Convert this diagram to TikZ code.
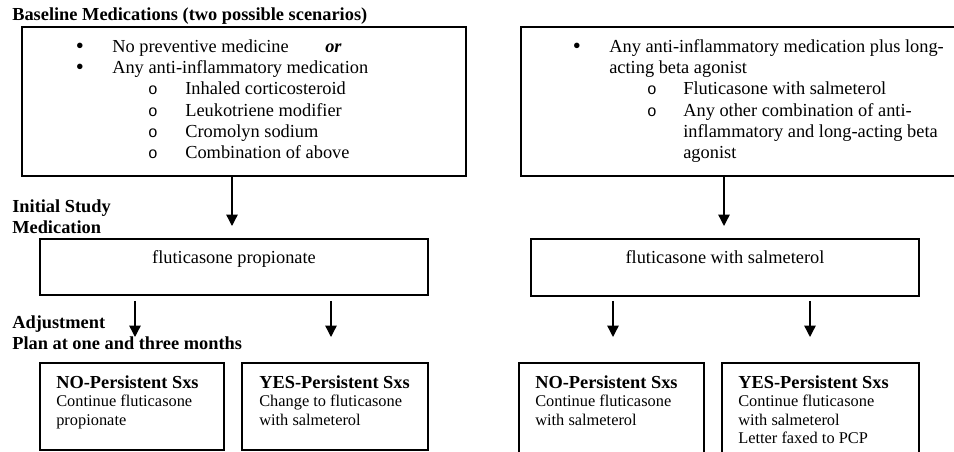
\documentclass[tikz,border=0pt]{standalone}
\usepackage{fontspec}
\setmainfont{Liberation Serif}
\setmonofont{Liberation Mono}
\usetikzlibrary{arrows.meta,fit}

\tikzset{
  box/.style={draw, line width=1.2pt, inner sep=0pt},
  txt/.style={inner sep=0pt, anchor=base west, font=\fontsize{12}{13.8}\selectfont},
  hdr/.style={txt, font=\fontsize{12}{13.8}\selectfont\bfseries},
  dot/.style={txt, anchor=base, font=\fontsize{15}{15}\selectfont},
  sub/.style={txt, anchor=base, font=\fontsize{10.5}{12}\selectfont\ttfamily},
  small/.style={txt, font=\fontsize{10.7}{12.1}\selectfont},
  arr/.style={-{Triangle[width=7.5pt,length=7.5pt]}, line width=0.9pt},
}

\begin{document}
\begin{tikzpicture}[x=0.6536pt, y=-0.6536pt]
  \useasboundingbox (0,0) rectangle (954,452);
  \clip (0,0) rectangle (954,452);

  % headings on the left
  \node[hdr] (tBase) at (12,20.5) {Baseline Medications (two possible scenarios)};
  \node[hdr] (tInit) at (12,212) {Initial Study};
  \node[hdr] (tMed) at (12,233) {Medication};
  \node[hdr] (tAdj) at (12,328) {Adjustment};
  \node[hdr] (tPlan) at (12,349) {Plan at one and three months};

  % baseline boxes
  \node[box, fit={(22,27) (466,176)}] (baseL) {};
  \node[box, fit={(521,27) (970,176)}] (baseR) {};

  \node[dot] (bL1) at (80,54) {•};
  \node[txt] (lL1) at (112,53) {No preventive medicine};
  \node[txt] (orL) at (325,53) {\bfseries\itshape or};
  \node[dot] (bL2) at (80,75) {•};
  \node[txt] (lL2) at (112,74) {Any anti-inflammatory medication};
  \foreach \t [count=\i] in {Inhaled corticosteroid, Leukotriene modifier,
      Cromolyn sodium, Combination of above} {
    \node[sub] (sL\i) at (153,{74+21*\i}) {o};
    \node[txt] (tL\i) at (185,{74+21*\i}) {\t};
  }

  \node[dot] (bR1) at (577,54) {•};
  \node[txt] (lR1) at (609,53) {Any anti-inflammatory medication plus long-};
  \node[txt] (lR2) at (609,74) {acting beta agonist};
  \node[sub] (sR1) at (652,95) {o};
  \node[txt] (tR1) at (683,95) {Fluticasone with salmeterol};
  \node[sub] (sR2) at (652,116) {o};
  \node[txt] (tR2) at (683,116) {Any other combination of anti-};
  \node[txt] (tR3) at (683,137) {inflammatory and long-acting beta};
  \node[txt] (tR4) at (683,158) {agonist};

  % initial study medication
  \node[box, fit={(40,239) (428,295)}] (initL) {};
  \node[box, fit={(531,239) (919,296)}] (initR) {};
  \node[txt, anchor=base] (mL) at (234,263) {fluticasone propionate};
  \node[txt, anchor=base] (mR) at (725,263) {fluticasone with salmeterol};

  % adjustment plan
  \node[box, fit={(40,363) (224,450)}] (noL) {};
  \node[box, fit={(242,363) (428,450)}] (yesL) {};
  \node[box, fit={(519,363) (704,470)}] (noR) {};
  \node[box, fit={(722,363) (919,470)}] (yesR) {};

  \node[hdr] (hNL) at (56,388) {NO-Persistent Sxs};
  \node[hdr] (hYL) at (259,388) {YES-Persistent Sxs};
  \node[hdr] (hNR) at (535,388) {NO-Persistent Sxs};
  \node[hdr] (hYR) at (738,388) {YES-Persistent Sxs};
  \foreach \t [count=\i] in {Continue fluticasone, propionate}
    \node[small] (bNL\i) at (56,{388+18.5*\i}) {\t};
  \foreach \t [count=\i] in {Change to fluticasone, with salmeterol}
    \node[small] (bYL\i) at (259,{388+18.5*\i}) {\t};
  \foreach \t [count=\i] in {Continue fluticasone, with salmeterol}
    \node[small] (bNR\i) at (535,{388+18.5*\i}) {\t};
  \foreach \t [count=\i] in {Continue fluticasone, with salmeterol, Letter faxed to PCP}
    \node[small] (bYR\i) at (738,{388+18.5*\i}) {\t};

  % arrows
  \coordinate (pA) at (232,226);
  \coordinate (pB) at (724,226);
  \coordinate (pNL) at (135,337);
  \coordinate (pYL) at (331,337);
  \coordinate (pNR) at (613,337);
  \coordinate (pYR) at (810,337);
  \draw[arr] (baseL.south -| pA) -- (pA);
  \draw[arr] (baseR.south -| pB) -- (pB);
  \draw[arr] ([yshift=-3.3pt]initL.south -| pNL) -- (pNL);
  \draw[arr] ([yshift=-3.3pt]initL.south -| pYL) -- (pYL);
  \draw[arr] ([yshift=-2.6pt]initR.south -| pNR) -- (pNR);
  \draw[arr] ([yshift=-2.6pt]initR.south -| pYR) -- (pYR);
\end{tikzpicture}
\end{document}
